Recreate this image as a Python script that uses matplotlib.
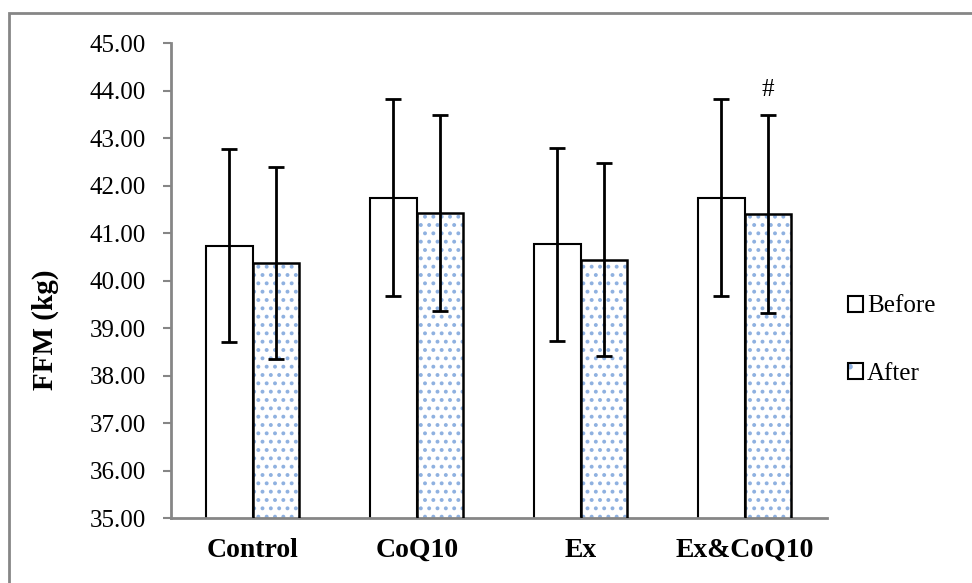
import matplotlib
matplotlib.use("Agg")
import matplotlib.pyplot as plt
import numpy as np
from matplotlib.patches import Rectangle, Patch
from matplotlib.colors import to_rgba

categories = ["Control", "CoQ10", "Ex", "Ex&CoQ10"]
before = [40.74, 41.75, 40.77, 41.75]
after = [40.37, 41.43, 40.44, 41.41]
before_sd = [2.03, 2.07, 2.03, 2.08]
after_sd = [2.02, 2.07, 2.03, 2.08]
series_labels = ["Before", "After"]
yticks = [35, 36, 37, 38, 39, 40, 41, 42, 43, 44, 45]
annot_text = "#"
annot_index = 3

plt.rcParams['font.family'] = ['Liberation Serif', 'DejaVu Serif']
plt.rcParams['hatch.linewidth'] = 1.6

fig = plt.figure(figsize=(9.72, 5.83), dpi=100)
ax = fig.add_axes([170.7/972, 1-518.3/583, (826.7-170.7)/972, (518.3-43.3)/583])

x = np.arange(len(categories))
w = 0.283
dot_color = '#8fb1e0'
grey = '#868686'

ax.bar(x - w/2, before, w, color='white', edgecolor='black', linewidth=1.5, zorder=2)
# after bars: hatch layer then black outline
ax.bar(x + w/2, after, w, color='white', edgecolor=dot_color, hatch='..', linewidth=0, zorder=2)
ax.bar(x + w/2, after, w, fill=False, edgecolor='black', linewidth=1.8, zorder=3)

ax.errorbar(x - w/2, before, yerr=before_sd, fmt='none', ecolor='black', elinewidth=2, capsize=6, capthick=2, zorder=4)
ax.errorbar(x + w/2, after, yerr=after_sd, fmt='none', ecolor='black', elinewidth=2, capsize=6, capthick=2, zorder=4)

ax.text(x[annot_index] + w/2, after[annot_index] + after_sd[annot_index] + 0.3, annot_text,
        ha='center', va='bottom', fontsize=18)

ax.set_xlim(-0.5, len(categories) - 0.5)
ax.set_ylim(35, 45)
ax.set_yticks(yticks)
ax.set_yticklabels([f"{v:.2f}" for v in yticks], fontsize=18)
ax.set_xticks(x)
ax.set_xticklabels(categories, fontsize=20, fontweight='bold')
ax.tick_params(axis='x', length=0, pad=14)
ax.tick_params(axis='y', length=6, width=1.5, color=grey, pad=12)
for s in ['top', 'right']:
    ax.spines[s].set_visible(False)
for s in ['left', 'bottom']:
    ax.spines[s].set_color(grey)
    ax.spines[s].set_linewidth(2)

fig.text(45/972, 1-330/583, "FFM (kg)", rotation=90, ha='center', va='center',
         fontsize=21, fontweight='bold')

handles = [Patch(facecolor='white', edgecolor='black', linewidth=1.5),
           Patch(facecolor='white', edgecolor=dot_color, hatch='.', linewidth=1.5)]
leg = fig.legend(handles, series_labels, loc='center left', bbox_to_anchor=(838/972, 1-340/583),
                 frameon=False, fontsize=18, handlelength=0.6, handleheight=0.6,
                 handletextpad=0.15, labelspacing=1.8, borderaxespad=0)
for h in leg.legend_handles:
    h.set_edgecolor('black')
leg.legend_handles[1]._hatch_color = to_rgba(dot_color)

# outer frame
fig.patches.append(Rectangle((9/972, -0.1), 1.2, 1.0777, transform=fig.transFigure,
                             fill=False, edgecolor=grey, linewidth=2, zorder=0))

fig.savefig("out.png", dpi=100)
